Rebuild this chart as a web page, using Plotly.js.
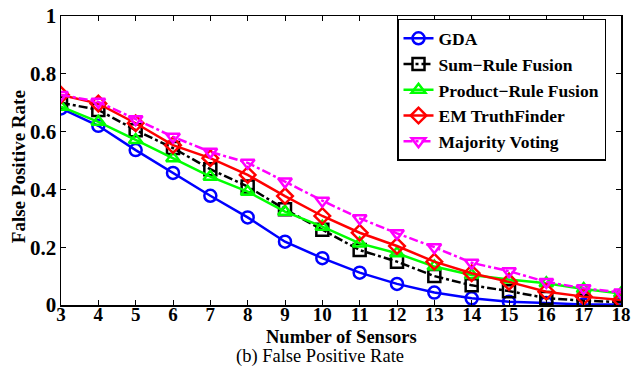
<!DOCTYPE html>
<html>
<head>
<meta charset="utf-8">
<script src="https://cdn.plot.ly/plotly-3.0.1.min.js"></script>
<style>html,body{margin:0;padding:0;background:#fff;}#chart{width:641px;height:369px;}</style>
</head>
<body>
<div id="chart"></div>
<script>
const sensors = [3,4,5,6,7,8,9,10,11,12,13,14,15,16,17,18];
const gda      = [0.680,0.620,0.536,0.457,0.378,0.303,0.219,0.162,0.112,0.073,0.043,0.023,0.011,0.007,0.002,0.002];
const sumRule  = [0.700,0.675,0.605,0.543,0.470,0.410,0.331,0.260,0.190,0.150,0.100,0.068,0.048,0.024,0.015,0.010];
const prodRule = [0.686,0.634,0.571,0.508,0.444,0.392,0.323,0.271,0.213,0.179,0.133,0.104,0.088,0.075,0.055,0.040];
const emTruth  = [0.727,0.697,0.629,0.553,0.508,0.450,0.377,0.308,0.250,0.204,0.150,0.110,0.080,0.046,0.029,0.017];
const majority = [0.727,0.703,0.643,0.582,0.530,0.492,0.427,0.361,0.300,0.248,0.200,0.146,0.117,0.080,0.058,0.043];
const names = ["GDA","Sum\u2212Rule Fusion","Product\u2212Rule Fusion","EM TruthFinder","Majority Voting"];
const series = [gda, sumRule, prodRule, emTruth, majority];
const colors = ["#0000ff","#000000","#00ff00","#ff0000","#ff00ff"];
const symbols = ["circle-open","square-open","triangle-up-open","diamond-open","triangle-down-open"];
const dashes = ["solid","dashdot","solid","solid","dashdot"];
const tickVals = [0,0.2,0.4,0.6,0.8,1];
const tickText = ["0","0.2","0.4","0.6","0.8","1"];
const xTitle = "Number of Sensors";
const yTitle = "False Positive Rate";
const caption = "(b) False Positive Rate";

const serif = "Liberation Serif";
const traces = series.map((ys,i)=>({
  x: sensors, y: ys, name: names[i], type: "scatter", mode: "lines+markers",
  line: {color: colors[i], width: 2.5, dash: dashes[i]},
  marker: {symbol: symbols[i], size: 12, color: colors[i], line: {color: colors[i], width: 2.5}}
}));

const layout = {
  width: 641, height: 369,
  margin: {l: 61, r: 20, t: 16, b: 64},
  paper_bgcolor: "#fff", plot_bgcolor: "#fff",
  font: {family: serif, color: "#000"},
  showlegend: true,
  legend: {x: 0.6, y: 0.99, xanchor: "left", yanchor: "top",
    bordercolor: "#000", borderwidth: 1.5, bgcolor: "#fff",
    font: {family: serif, size: 17.5, weight: "bold", color: "#000"},
    tracegroupgap: 0, itemwidth: 30},
  xaxis: {range: [3,18], tickvals: sensors, ticktext: sensors.map(String),
    ticks: "inside", ticklen: 5, tickwidth: 1, tickcolor: "#000",
    showline: true, linecolor: "#000", linewidth: 1.5, mirror: "ticks",
    showgrid: false, zeroline: false, ticklabelstandoff: -8,
    tickfont: {family: serif, size: 19, weight: "bold"}},
  yaxis: {range: [0,1], tickvals: tickVals, ticktext: tickText,
    ticks: "inside", ticklen: 5, tickwidth: 1, tickcolor: "#000",
    showline: true, linecolor: "#000", linewidth: 1.5, mirror: "ticks",
    showgrid: false, zeroline: false, ticklabelstandoff: -1,
    tickfont: {family: serif, size: 21, weight: "bold"}},
  annotations: [
    {text: xTitle, xref: "paper", yref: "paper", x: 0.5, y: -0.112,
     xanchor: "center", yanchor: "middle", showarrow: false,
     font: {family: serif, size: 18.5, weight: "bold", color: "#000"}},
    {text: yTitle, xref: "paper", yref: "paper", x: -0.077, y: 0.48, textangle: -90,
     xanchor: "center", yanchor: "middle", showarrow: false,
     font: {family: serif, size: 19, weight: "bold", color: "#000"}},
    {text: caption, xref: "paper", yref: "paper",
    x: 0.462, y: -0.178, xanchor: "center", yanchor: "middle", showarrow: false,
    font: {family: serif, size: 18.5, color: "#000"}}]
};
Plotly.newPlot("chart", traces, layout, {displayModeBar: false, staticPlot: true});
</script>
</body>
</html>
